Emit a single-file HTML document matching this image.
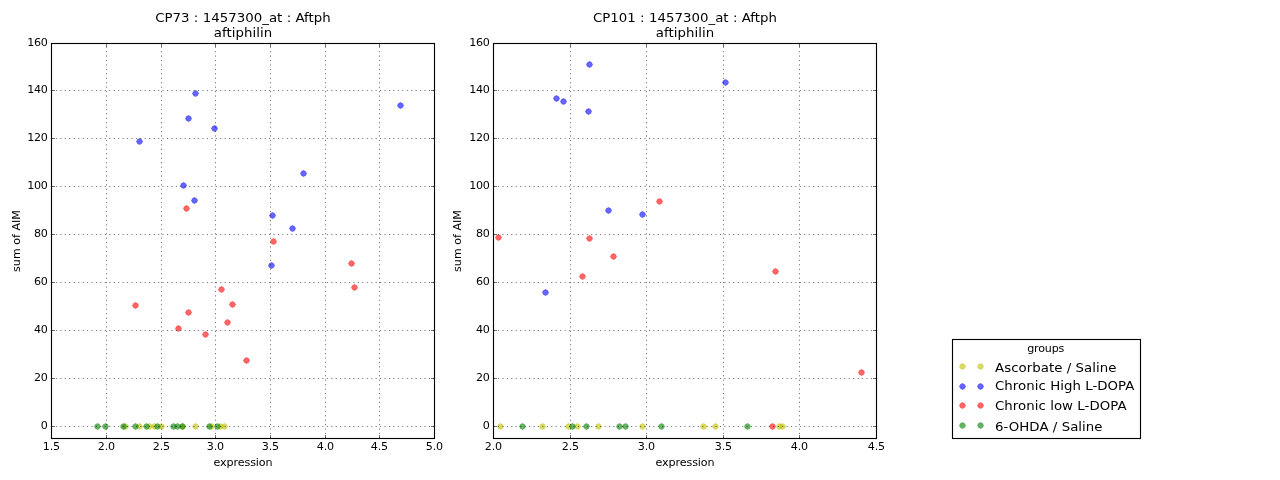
<!DOCTYPE html>
<html lang="en"><head><meta charset="utf-8"><title>Aftph expression vs sum of AIM</title>
<style>html,body{margin:0;padding:0;background:#fff;}body{width:1280px;height:480px;overflow:hidden;}svg{display:block;}</style>
</head><body>
<svg width="1280" height="480" viewBox="0 0 1280 480">
<rect x="0" y="0" width="1280" height="480" fill="#fff"/>
<defs><path id="m" d="M0,-3C1,-3 1,-2 2,-2C2,-1 3,-1 3,0C3,1 2,1 2,2C1,2 1,3 0,3C-1,3 -1,2 -2,2C-2,1 -3,1 -3,0C-3,-1 -2,-1 -2,-2C-1,-2 -1,-3 0,-3Z"/></defs>
<g font-family="'DejaVu Sans', 'Liberation Sans', sans-serif">
<clipPath id="c51"><rect x="51.5" y="43.5" width="383.0" height="395.0"/></clipPath>
<g clip-path="url(#c51)">
<g fill="#bfbf00" stroke="#bfbf00" fill-opacity="0.6" stroke-opacity="0.6" stroke-width="0.65">
<use href="#m" x="125.5" y="426.5"/>
<use href="#m" x="139.5" y="426.5"/>
<use href="#m" x="149.5" y="426.5"/>
<use href="#m" x="154.5" y="426.5"/>
<use href="#m" x="161.5" y="426.5"/>
<use href="#m" x="182.5" y="426.5"/>
<use href="#m" x="195.5" y="426.5"/>
<use href="#m" x="211.5" y="426.5"/>
<use href="#m" x="220.5" y="426.5"/>
<use href="#m" x="224.5" y="426.5"/>
</g>
<g fill="#0000ff" stroke="#0000ff" fill-opacity="0.6" stroke-opacity="0.6" stroke-width="0.65">
<use href="#m" x="195.5" y="93.5"/>
<use href="#m" x="188.5" y="118.5"/>
<use href="#m" x="214.5" y="128.5"/>
<use href="#m" x="139.5" y="141.5"/>
<use href="#m" x="183.5" y="185.5"/>
<use href="#m" x="194.5" y="200.5"/>
<use href="#m" x="272.5" y="215.5"/>
<use href="#m" x="303.5" y="173.5"/>
<use href="#m" x="292.5" y="228.5"/>
<use href="#m" x="271.5" y="265.5"/>
<use href="#m" x="400.5" y="105.5"/>
</g>
<g fill="#ff0000" stroke="#ff0000" fill-opacity="0.6" stroke-opacity="0.6" stroke-width="0.65">
<use href="#m" x="186.5" y="208.5"/>
<use href="#m" x="273.5" y="241.5"/>
<use href="#m" x="351.5" y="263.5"/>
<use href="#m" x="354.5" y="287.5"/>
<use href="#m" x="135.5" y="305.5"/>
<use href="#m" x="188.5" y="312.5"/>
<use href="#m" x="221.5" y="289.5"/>
<use href="#m" x="232.5" y="304.5"/>
<use href="#m" x="227.5" y="322.5"/>
<use href="#m" x="178.5" y="328.5"/>
<use href="#m" x="205.5" y="334.5"/>
<use href="#m" x="246.5" y="360.5"/>
</g>
<g fill="#008000" stroke="#008000" fill-opacity="0.6" stroke-opacity="0.6" stroke-width="0.65">
<use href="#m" x="97.5" y="426.5"/>
<use href="#m" x="105.5" y="426.5"/>
<use href="#m" x="123.5" y="426.5"/>
<use href="#m" x="135.5" y="426.5"/>
<use href="#m" x="146.5" y="426.5"/>
<use href="#m" x="157.5" y="426.5"/>
<use href="#m" x="173.5" y="426.5"/>
<use href="#m" x="177.5" y="426.5"/>
<use href="#m" x="182.5" y="426.5"/>
<use href="#m" x="209.5" y="426.5"/>
<use href="#m" x="217.5" y="426.5"/>
</g>
</g>
<g stroke="#000" stroke-width="0.556" stroke-dasharray="1.11 3.33" fill="none">
<line x1="51.5" y1="438.5" x2="51.5" y2="43.5"/>
<line x1="106.5" y1="438.5" x2="106.5" y2="43.5"/>
<line x1="161.5" y1="438.5" x2="161.5" y2="43.5"/>
<line x1="215.5" y1="438.5" x2="215.5" y2="43.5"/>
<line x1="270.5" y1="438.5" x2="270.5" y2="43.5"/>
<line x1="325.5" y1="438.5" x2="325.5" y2="43.5"/>
<line x1="379.5" y1="438.5" x2="379.5" y2="43.5"/>
<line x1="434.5" y1="438.5" x2="434.5" y2="43.5"/>
<line x1="51.5" y1="426.5" x2="434.5" y2="426.5"/>
<line x1="51.5" y1="378.5" x2="434.5" y2="378.5"/>
<line x1="51.5" y1="330.5" x2="434.5" y2="330.5"/>
<line x1="51.5" y1="282.5" x2="434.5" y2="282.5"/>
<line x1="51.5" y1="234.5" x2="434.5" y2="234.5"/>
<line x1="51.5" y1="186.5" x2="434.5" y2="186.5"/>
<line x1="51.5" y1="138.5" x2="434.5" y2="138.5"/>
<line x1="51.5" y1="90.5" x2="434.5" y2="90.5"/>
<line x1="51.5" y1="43.5" x2="434.5" y2="43.5"/>
</g>
<g stroke="#000" stroke-width="0.556" fill="none">
<line x1="51.5" y1="439.0" x2="51.5" y2="435.0"/>
<line x1="51.5" y1="43.0" x2="51.5" y2="47.0"/>
<line x1="106.5" y1="439.0" x2="106.5" y2="435.0"/>
<line x1="106.5" y1="43.0" x2="106.5" y2="47.0"/>
<line x1="161.5" y1="439.0" x2="161.5" y2="435.0"/>
<line x1="161.5" y1="43.0" x2="161.5" y2="47.0"/>
<line x1="215.5" y1="439.0" x2="215.5" y2="435.0"/>
<line x1="215.5" y1="43.0" x2="215.5" y2="47.0"/>
<line x1="270.5" y1="439.0" x2="270.5" y2="435.0"/>
<line x1="270.5" y1="43.0" x2="270.5" y2="47.0"/>
<line x1="325.5" y1="439.0" x2="325.5" y2="435.0"/>
<line x1="325.5" y1="43.0" x2="325.5" y2="47.0"/>
<line x1="379.5" y1="439.0" x2="379.5" y2="435.0"/>
<line x1="379.5" y1="43.0" x2="379.5" y2="47.0"/>
<line x1="434.5" y1="439.0" x2="434.5" y2="435.0"/>
<line x1="434.5" y1="43.0" x2="434.5" y2="47.0"/>
<line x1="51.0" y1="426.5" x2="55.0" y2="426.5"/>
<line x1="435.0" y1="426.5" x2="431.0" y2="426.5"/>
<line x1="51.0" y1="378.5" x2="55.0" y2="378.5"/>
<line x1="435.0" y1="378.5" x2="431.0" y2="378.5"/>
<line x1="51.0" y1="330.5" x2="55.0" y2="330.5"/>
<line x1="435.0" y1="330.5" x2="431.0" y2="330.5"/>
<line x1="51.0" y1="282.5" x2="55.0" y2="282.5"/>
<line x1="435.0" y1="282.5" x2="431.0" y2="282.5"/>
<line x1="51.0" y1="234.5" x2="55.0" y2="234.5"/>
<line x1="435.0" y1="234.5" x2="431.0" y2="234.5"/>
<line x1="51.0" y1="186.5" x2="55.0" y2="186.5"/>
<line x1="435.0" y1="186.5" x2="431.0" y2="186.5"/>
<line x1="51.0" y1="138.5" x2="55.0" y2="138.5"/>
<line x1="435.0" y1="138.5" x2="431.0" y2="138.5"/>
<line x1="51.0" y1="90.5" x2="55.0" y2="90.5"/>
<line x1="435.0" y1="90.5" x2="431.0" y2="90.5"/>
<line x1="51.0" y1="43.5" x2="55.0" y2="43.5"/>
<line x1="435.0" y1="43.5" x2="431.0" y2="43.5"/>
</g>
<rect x="51.5" y="43.5" width="383.0" height="395.0" fill="none" stroke="#000" stroke-width="1.11"/>
<g font-size="11.11px" fill="#000">
<text x="51.4" y="450" text-anchor="middle" letter-spacing="-0.2">1.5</text>
<text x="106.4" y="450" text-anchor="middle" letter-spacing="-0.2">2.0</text>
<text x="161.4" y="450" text-anchor="middle" letter-spacing="-0.2">2.5</text>
<text x="215.4" y="450" text-anchor="middle" letter-spacing="-0.2">3.0</text>
<text x="270.4" y="450" text-anchor="middle" letter-spacing="-0.2">3.5</text>
<text x="325.4" y="450" text-anchor="middle" letter-spacing="-0.2">4.0</text>
<text x="379.4" y="450" text-anchor="middle" letter-spacing="-0.2">4.5</text>
<text x="434.4" y="450" text-anchor="middle" letter-spacing="-0.2">5.0</text>
<text x="47.5" y="429.0" text-anchor="end" letter-spacing="-0.3">0</text>
<text x="47.5" y="381.0" text-anchor="end" letter-spacing="-0.3">20</text>
<text x="47.5" y="333.0" text-anchor="end" letter-spacing="-0.3">40</text>
<text x="47.5" y="285.0" text-anchor="end" letter-spacing="-0.3">60</text>
<text x="47.5" y="237.0" text-anchor="end" letter-spacing="-0.3">80</text>
<text x="47.5" y="189.0" text-anchor="end" letter-spacing="-0.3">100</text>
<text x="47.5" y="141.0" text-anchor="end" letter-spacing="-0.3">120</text>
<text x="47.5" y="93.0" text-anchor="end" letter-spacing="-0.3">140</text>
<text x="47.5" y="46.0" text-anchor="end" letter-spacing="-0.3">160</text>
<text x="243.0" y="466" text-anchor="middle" letter-spacing="-0.11">expression</text>
<text transform="translate(19.5,241) rotate(-90)" text-anchor="middle">sum of AIM</text>
</g>
<g font-size="13.33px" fill="#000" text-anchor="middle" letter-spacing="0.04">
<text transform="translate(243.0,22.4) scale(1,0.96)">CP73 : 1457300_at : Aftph</text>
<text transform="translate(243.0,37) scale(1,0.96)">aftiphilin</text>
</g>
<clipPath id="c493"><rect x="493.5" y="43.5" width="383.0" height="395.0"/></clipPath>
<g clip-path="url(#c493)">
<g fill="#bfbf00" stroke="#bfbf00" fill-opacity="0.6" stroke-opacity="0.6" stroke-width="0.65">
<use href="#m" x="500.5" y="426.5"/>
<use href="#m" x="542.5" y="426.5"/>
<use href="#m" x="568.5" y="426.5"/>
<use href="#m" x="577.5" y="426.5"/>
<use href="#m" x="598.5" y="426.5"/>
<use href="#m" x="642.5" y="426.5"/>
<use href="#m" x="703.5" y="426.5"/>
<use href="#m" x="715.5" y="426.5"/>
<use href="#m" x="779.5" y="426.5"/>
<use href="#m" x="782.5" y="426.5"/>
</g>
<g fill="#0000ff" stroke="#0000ff" fill-opacity="0.6" stroke-opacity="0.6" stroke-width="0.65">
<use href="#m" x="589.5" y="64.5"/>
<use href="#m" x="556.5" y="98.5"/>
<use href="#m" x="563.5" y="101.5"/>
<use href="#m" x="588.5" y="111.5"/>
<use href="#m" x="725.5" y="82.5"/>
<use href="#m" x="608.5" y="210.5"/>
<use href="#m" x="642.5" y="214.5"/>
<use href="#m" x="545.5" y="292.5"/>
</g>
<g fill="#ff0000" stroke="#ff0000" fill-opacity="0.6" stroke-opacity="0.6" stroke-width="0.65">
<use href="#m" x="498.5" y="237.5"/>
<use href="#m" x="589.5" y="238.5"/>
<use href="#m" x="659.5" y="201.5"/>
<use href="#m" x="613.5" y="256.5"/>
<use href="#m" x="582.5" y="276.5"/>
<use href="#m" x="775.5" y="271.5"/>
<use href="#m" x="861.5" y="372.5"/>
<use href="#m" x="772.5" y="426.5"/>
</g>
<g fill="#008000" stroke="#008000" fill-opacity="0.6" stroke-opacity="0.6" stroke-width="0.65">
<use href="#m" x="522.5" y="426.5"/>
<use href="#m" x="572.5" y="426.5"/>
<use href="#m" x="586.5" y="426.5"/>
<use href="#m" x="619.5" y="426.5"/>
<use href="#m" x="625.5" y="426.5"/>
<use href="#m" x="661.5" y="426.5"/>
<use href="#m" x="747.5" y="426.5"/>
</g>
</g>
<g stroke="#000" stroke-width="0.556" stroke-dasharray="1.11 3.33" fill="none">
<line x1="493.5" y1="438.5" x2="493.5" y2="43.5"/>
<line x1="570.5" y1="438.5" x2="570.5" y2="43.5"/>
<line x1="646.5" y1="438.5" x2="646.5" y2="43.5"/>
<line x1="723.5" y1="438.5" x2="723.5" y2="43.5"/>
<line x1="799.5" y1="438.5" x2="799.5" y2="43.5"/>
<line x1="876.5" y1="438.5" x2="876.5" y2="43.5"/>
<line x1="493.5" y1="426.5" x2="876.5" y2="426.5"/>
<line x1="493.5" y1="378.5" x2="876.5" y2="378.5"/>
<line x1="493.5" y1="330.5" x2="876.5" y2="330.5"/>
<line x1="493.5" y1="282.5" x2="876.5" y2="282.5"/>
<line x1="493.5" y1="234.5" x2="876.5" y2="234.5"/>
<line x1="493.5" y1="186.5" x2="876.5" y2="186.5"/>
<line x1="493.5" y1="138.5" x2="876.5" y2="138.5"/>
<line x1="493.5" y1="90.5" x2="876.5" y2="90.5"/>
<line x1="493.5" y1="43.5" x2="876.5" y2="43.5"/>
</g>
<g stroke="#000" stroke-width="0.556" fill="none">
<line x1="493.5" y1="439.0" x2="493.5" y2="435.0"/>
<line x1="493.5" y1="43.0" x2="493.5" y2="47.0"/>
<line x1="570.5" y1="439.0" x2="570.5" y2="435.0"/>
<line x1="570.5" y1="43.0" x2="570.5" y2="47.0"/>
<line x1="646.5" y1="439.0" x2="646.5" y2="435.0"/>
<line x1="646.5" y1="43.0" x2="646.5" y2="47.0"/>
<line x1="723.5" y1="439.0" x2="723.5" y2="435.0"/>
<line x1="723.5" y1="43.0" x2="723.5" y2="47.0"/>
<line x1="799.5" y1="439.0" x2="799.5" y2="435.0"/>
<line x1="799.5" y1="43.0" x2="799.5" y2="47.0"/>
<line x1="876.5" y1="439.0" x2="876.5" y2="435.0"/>
<line x1="876.5" y1="43.0" x2="876.5" y2="47.0"/>
<line x1="493.0" y1="426.5" x2="497.0" y2="426.5"/>
<line x1="877.0" y1="426.5" x2="873.0" y2="426.5"/>
<line x1="493.0" y1="378.5" x2="497.0" y2="378.5"/>
<line x1="877.0" y1="378.5" x2="873.0" y2="378.5"/>
<line x1="493.0" y1="330.5" x2="497.0" y2="330.5"/>
<line x1="877.0" y1="330.5" x2="873.0" y2="330.5"/>
<line x1="493.0" y1="282.5" x2="497.0" y2="282.5"/>
<line x1="877.0" y1="282.5" x2="873.0" y2="282.5"/>
<line x1="493.0" y1="234.5" x2="497.0" y2="234.5"/>
<line x1="877.0" y1="234.5" x2="873.0" y2="234.5"/>
<line x1="493.0" y1="186.5" x2="497.0" y2="186.5"/>
<line x1="877.0" y1="186.5" x2="873.0" y2="186.5"/>
<line x1="493.0" y1="138.5" x2="497.0" y2="138.5"/>
<line x1="877.0" y1="138.5" x2="873.0" y2="138.5"/>
<line x1="493.0" y1="90.5" x2="497.0" y2="90.5"/>
<line x1="877.0" y1="90.5" x2="873.0" y2="90.5"/>
<line x1="493.0" y1="43.5" x2="497.0" y2="43.5"/>
<line x1="877.0" y1="43.5" x2="873.0" y2="43.5"/>
</g>
<rect x="493.5" y="43.5" width="383.0" height="395.0" fill="none" stroke="#000" stroke-width="1.11"/>
<g font-size="11.11px" fill="#000">
<text x="493.4" y="450" text-anchor="middle" letter-spacing="-0.2">2.0</text>
<text x="570.4" y="450" text-anchor="middle" letter-spacing="-0.2">2.5</text>
<text x="646.4" y="450" text-anchor="middle" letter-spacing="-0.2">3.0</text>
<text x="723.4" y="450" text-anchor="middle" letter-spacing="-0.2">3.5</text>
<text x="799.4" y="450" text-anchor="middle" letter-spacing="-0.2">4.0</text>
<text x="876.4" y="450" text-anchor="middle" letter-spacing="-0.2">4.5</text>
<text x="489.5" y="429.0" text-anchor="end" letter-spacing="-0.3">0</text>
<text x="489.5" y="381.0" text-anchor="end" letter-spacing="-0.3">20</text>
<text x="489.5" y="333.0" text-anchor="end" letter-spacing="-0.3">40</text>
<text x="489.5" y="285.0" text-anchor="end" letter-spacing="-0.3">60</text>
<text x="489.5" y="237.0" text-anchor="end" letter-spacing="-0.3">80</text>
<text x="489.5" y="189.0" text-anchor="end" letter-spacing="-0.3">100</text>
<text x="489.5" y="141.0" text-anchor="end" letter-spacing="-0.3">120</text>
<text x="489.5" y="93.0" text-anchor="end" letter-spacing="-0.3">140</text>
<text x="489.5" y="46.0" text-anchor="end" letter-spacing="-0.3">160</text>
<text x="685.0" y="466" text-anchor="middle" letter-spacing="-0.11">expression</text>
<text transform="translate(461.4,241) rotate(-90)" text-anchor="middle">sum of AIM</text>
</g>
<g font-size="13.33px" fill="#000" text-anchor="middle" letter-spacing="0.04">
<text transform="translate(685.0,22.4) scale(1,0.96)">CP101 : 1457300_at : Aftph</text>
<text transform="translate(685.0,37) scale(1,0.96)">aftiphilin</text>
</g>
<rect x="952.5" y="339.5" width="188" height="99" fill="#fff" stroke="#000" stroke-width="1.11"/>
<text x="1045.7" y="352" font-size="11.11px" text-anchor="middle" letter-spacing="-0.16">groups</text>
<g fill="#bfbf00" stroke="#bfbf00" fill-opacity="0.6" stroke-opacity="0.6" stroke-width="0.65">
<use href="#m" x="962.5" y="366.5"/><use href="#m" x="980.5" y="366.5"/></g>
<text transform="translate(995,372.2) scale(1,0.96)" font-size="13.33px" letter-spacing="0.05">Ascorbate / Saline</text>
<g fill="#0000ff" stroke="#0000ff" fill-opacity="0.6" stroke-opacity="0.6" stroke-width="0.65">
<use href="#m" x="962.5" y="386.5"/><use href="#m" x="980.5" y="386.5"/></g>
<text transform="translate(995,390.2) scale(1,0.96)" font-size="13.33px" letter-spacing="0.05">Chronic High L-DOPA</text>
<g fill="#ff0000" stroke="#ff0000" fill-opacity="0.6" stroke-opacity="0.6" stroke-width="0.65">
<use href="#m" x="962.5" y="405.5"/><use href="#m" x="980.5" y="405.5"/></g>
<text transform="translate(995,410.2) scale(1,0.96)" font-size="13.33px" letter-spacing="0.05">Chronic low L-DOPA</text>
<g fill="#008000" stroke="#008000" fill-opacity="0.6" stroke-opacity="0.6" stroke-width="0.65">
<use href="#m" x="962.5" y="425.5"/><use href="#m" x="980.5" y="425.5"/></g>
<text transform="translate(995,431.2) scale(1,0.96)" font-size="13.33px" letter-spacing="0.05">6-OHDA / Saline</text>
</g>
</svg>
</body></html>
